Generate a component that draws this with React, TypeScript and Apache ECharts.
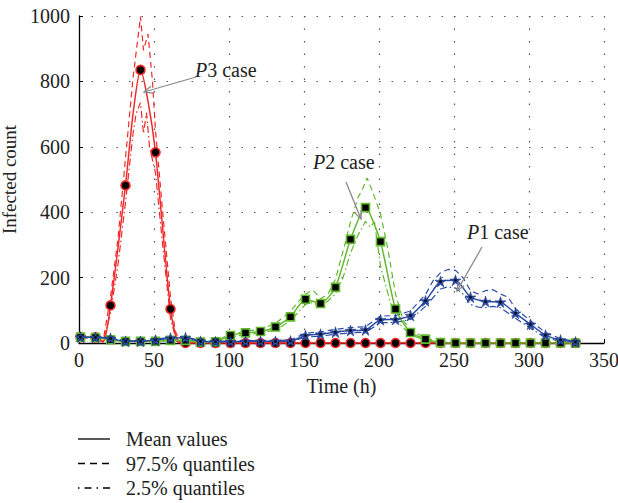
import React, { useEffect, useRef } from 'react';
import * as echarts from 'echarts';

const times = [1, 11, 21, 31, 41, 51, 61, 71, 81, 91, 101, 111, 121, 131, 141, 151, 161, 171, 181, 191, 201, 211, 221, 231, 241, 251, 261, 271, 281, 291, 301, 311, 321, 331];

const p3Mean = [18, 17, 115, 482, 835, 583, 104, 0, 0, 0, 0, 0, 0, 0, 0, 0, 0, 0, 0, 0, 0, 0, 0, 0, 0, 0, 0, 0, 0, 0, 0, 0, 0, 0];
const p2Mean = [18, 17, 10, 5, 5, 5, 8, 8, 3, 4, 23, 31, 35, 49, 80, 134, 121, 170, 317, 414, 310, 104, 32, 12, 1, 0, 0, 0, 0, 0, 0, 0, 0, 0];
const p1Mean = [18, 17, 14, 5, 5, 9, 15, 16, 5, 4, 4, 5, 5, 5, 6, 23, 27, 33, 38, 40, 71, 72, 84, 129, 188, 192, 140, 127, 125, 91, 57, 24, 9, 3];

// extra points of the mean curves between markers
const p3MeanExtra = [[16, 3], [36, 700], [46, 740], [66, 4]];

const p3Upper = [[1, 20], [11, 19], [16, 4], [21, 140], [26, 320], [31, 565], [36, 810], [41, 998], [43, 895], [46, 945], [49, 800], [51, 650], [56, 390], [61, 140], [64, 40], [67, 3], [71, 0], [331, 0]];
const p3Lower = [[1, 16], [11, 15], [16, 1], [21, 92], [26, 240], [31, 430], [36, 640], [38, 700], [41, 735], [43, 640], [45, 705], [47, 600], [51, 520], [56, 290], [61, 75], [65, 5], [71, 0], [331, 0]];

const p2Upper = [[1, 20], [11, 19], [21, 12], [31, 7], [41, 7], [51, 7], [61, 11], [71, 10], [81, 5], [91, 6], [101, 28], [111, 36], [121, 42], [131, 60], [141, 97], [146, 125], [151, 150], [156, 162], [161, 135], [166, 150], [171, 195], [176, 280], [181, 370], [186, 445], [189, 470], [192, 505], [196, 460], [201, 395], [206, 285], [211, 150], [216, 70], [221, 40], [231, 15], [241, 3], [251, 0], [331, 0]];
const p2Lower = [[1, 16], [11, 15], [21, 8], [31, 4], [41, 4], [51, 4], [61, 6], [71, 6], [81, 2], [91, 3], [101, 18], [111, 26], [121, 30], [131, 40], [141, 68], [151, 118], [156, 125], [161, 108], [171, 150], [176, 200], [181, 275], [186, 330], [191, 372], [194, 355], [197, 370], [201, 235], [206, 150], [211, 70], [221, 25], [231, 8], [241, 0], [331, 0]];

const p1Upper = [[1, 20], [11, 19], [21, 16], [31, 7], [41, 7], [51, 11], [61, 18], [71, 19], [81, 7], [91, 6], [101, 6], [111, 7], [121, 7], [131, 8], [141, 9], [151, 30], [161, 34], [171, 42], [181, 47], [191, 50], [201, 82], [211, 84], [221, 98], [231, 148], [236, 190], [241, 215], [246, 225], [251, 222], [256, 200], [261, 160], [266, 150], [271, 160], [276, 163], [281, 150], [286, 140], [291, 105], [301, 68], [311, 32], [321, 13], [331, 5]];
const p1Lower = [[1, 16], [11, 15], [21, 12], [31, 4], [41, 4], [51, 7], [61, 12], [71, 13], [81, 4], [91, 3], [101, 3], [111, 4], [121, 4], [131, 4], [141, 4], [151, 18], [161, 21], [171, 27], [181, 31], [191, 33], [201, 62], [211, 63], [221, 72], [231, 112], [241, 165], [246, 172], [251, 168], [256, 150], [261, 118], [266, 110], [271, 108], [276, 112], [281, 108], [291, 76], [301, 45], [311, 16], [321, 5], [331, 1]];

const legendLabels = ['Mean values', '97.5% quantiles', '2.5% quantiles'];
const caseLabels = ['3', '2', '1'];

const FONT = "'Liberation Serif', 'DejaVu Serif', serif";
const FS = 20;
const RED = '#f02a2a';
const GREEN = '#63b82f';
const BLUE = '#2a4ca4';
const DASH = [6, 4];
const DASHDOT = [7, 3, 1.5, 3];
const STAR = 'path://M50,0 L61.8,35.3 L99,35.3 L69,57.2 L80.4,92.7 L50,70.8 L19.6,92.7 L31,57.2 L1,35.3 L38.2,35.3 Z';

function meanData(vals: number[], extra: number[][] = []) {
  const pts: any[] = times.map((t, i) => ({ value: [t, vals[i]] }));
  extra.forEach((p) => pts.push({ value: p, symbol: 'none' }));
  pts.sort((a, b) => a.value[0] - b.value[0]);
  return pts;
}

function arrow(x1: number, y1: number, x2: number, y2: number) {
  const ang = Math.atan2(y2 - y1, x2 - x1);
  const L = 9;
  const a = 0.4;
  const p1 = [x2 - L * Math.cos(ang - a), y2 - L * Math.sin(ang - a)];
  const p2 = [x2 - L * Math.cos(ang + a), y2 - L * Math.sin(ang + a)];
  return [
    { type: 'line', z: 50, shape: { x1, y1, x2, y2 }, style: { stroke: '#8a8a8a', lineWidth: 1.3 } },
    { type: 'polyline', z: 50, shape: { points: [p1, [x2, y2], p2] }, style: { stroke: '#8a8a8a', lineWidth: 1.3, fill: null } },
  ];
}

function caseText(num: string, x: number, y: number) {
  return {
    type: 'text',
    x,
    y,
    z: 50,
    style: {
      text: '{i|P}' + num + ' case',
      fontFamily: FONT,
      fontSize: FS,
      fill: '#222',
      verticalAlign: 'middle',
      rich: { i: { fontStyle: 'italic', fontFamily: FONT, fontSize: FS, fill: '#222' } },
    },
  };
}

export default function App() {
  const ref = useRef<HTMLDivElement>(null);
  useEffect(() => {
    if (!ref.current) return;
    const chart = echarts.init(ref.current, undefined, { renderer: 'svg' });

    const band = (data: number[][], color: string, type: any, z: number) => ({
      type: 'line',
      data,
      symbol: 'none',
      lineStyle: { color, width: 1.2, type },
      z,
    });

    const legendRows = [0, 1, 2].map((i) => {
      const y = 439 + i * 24.5;
      const dash = i === 0 ? null : i === 1 ? [7, 5] : [1.5, 5, 7, 5];
      return [
        { type: 'line', shape: { x1: 78, y1: y, x2: 110, y2: y }, style: { stroke: '#000', lineWidth: 1.3, lineDash: dash } },
        { type: 'text', x: 126, y, style: { text: legendLabels[i], fontFamily: FONT, fontSize: FS, fill: '#222', verticalAlign: 'middle' } },
      ];
    }).flat();

    const axisText = { fontFamily: FONT, fontSize: FS, color: '#222' };

    chart.setOption({
      animation: false,
      grid: { left: 79, right: 14, top: 16, bottom: 160, outerBoundsMode: 'none', containLabel: false },
      xAxis: {
        type: 'value',
        min: 0,
        max: 350,
        interval: 50,
        axisLine: { show: true, lineStyle: { color: '#000', width: 1.3 } },
        axisTick: { show: true, inside: true, length: 4, lineStyle: { color: '#000' } },
        splitLine: { show: true, lineStyle: { type: [1.5, 11], color: '#555', width: 1.2 } },
        axisLabel: { ...axisText, margin: 7 },
        name: 'Time (h)',
        nameLocation: 'middle',
        nameGap: 33,
        nameTextStyle: axisText,
      },
      yAxis: {
        type: 'value',
        min: 0,
        max: 1000,
        interval: 200,
        axisLine: { show: true, lineStyle: { color: '#000', width: 1.3 } },
        axisTick: { show: true, inside: true, length: 4, lineStyle: { color: '#000' } },
        splitLine: { show: true, lineStyle: { type: [1.5, 11], color: '#555', width: 1.2 } },
        axisLabel: { ...axisText, margin: 9, formatter: (v: number) => String(v) },
        name: 'Infected count',
        nameLocation: 'middle',
        nameGap: 50,
        nameTextStyle: { ...axisText, fontSize: 19 },
      },
      series: [
        band(p3Upper, RED, DASH, 2),
        band(p3Lower, RED, DASHDOT, 2),
        band(p2Upper, GREEN, DASH, 2),
        band(p2Lower, GREEN, DASHDOT, 2),
        band(p1Upper, BLUE, DASH, 2),
        band(p1Lower, BLUE, DASHDOT, 2),
        {
          type: 'line',
          data: meanData(p3Mean, p3MeanExtra),
          smooth: 0.25,
          symbol: 'circle',
          symbolSize: 9,
          showAllSymbol: true,
          lineStyle: { color: RED, width: 1.5 },
          itemStyle: { color: '#000', borderColor: RED, borderWidth: 1.6 },
          z: 3,
        },
        {
          type: 'line',
          data: meanData(p2Mean),
          smooth: 0.2,
          symbol: 'rect',
          symbolSize: 8,
          showAllSymbol: true,
          lineStyle: { color: GREEN, width: 1.5 },
          itemStyle: { color: '#000', borderColor: GREEN, borderWidth: 1.6 },
          z: 4,
        },
        {
          type: 'line',
          data: meanData(p1Mean),
          smooth: 0.2,
          symbol: STAR,
          symbolSize: 11,
          showAllSymbol: true,
          lineStyle: { color: BLUE, width: 1.5 },
          itemStyle: { color: BLUE, borderColor: '#1c3580', borderWidth: 0.5 },
          z: 5,
        },
        {
          type: 'scatter',
          data: times.map((t, i) => [t, p1Mean[i]]),
          symbol: 'circle',
          symbolSize: 3,
          itemStyle: { color: '#000' },
          z: 6,
        },
      ],
      graphic: [
        ...arrow(196, 77, 144, 92),
        ...arrow(346, 182, 361, 219),
        ...arrow(482, 247, 457, 291),
        caseText(caseLabels[0], 195, 70),
        caseText(caseLabels[1], 313, 162),
        caseText(caseLabels[2], 467, 232),
        ...legendRows,
      ],
    });
    return () => chart.dispose();
  }, []);
  return <div ref={ref} style={{ position: 'absolute', left: 0, top: 0, width: 618, height: 503 }} />;
}
